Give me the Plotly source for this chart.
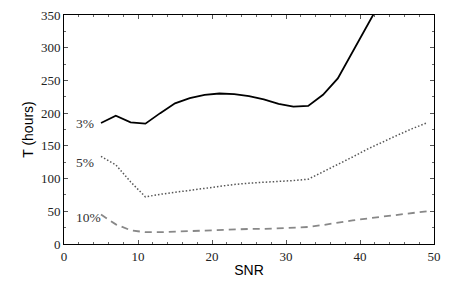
import plotly.graph_objects as go

snr_3 = [5, 7, 9, 11, 13, 15, 17, 19, 21, 23, 25, 27, 29, 31, 33, 35, 37, 39, 41, 43]
t_3 = [185, 196, 186, 184, 200, 215, 223, 228, 230, 229, 226, 221, 214, 210, 211, 228, 253, 293, 334, 375]

snr_5 = [5, 7, 9, 11, 13, 15, 17, 19, 21, 23, 25, 27, 29, 31, 33, 35, 37, 39, 41, 43, 45, 47, 49]
t_5 = [134, 121, 95, 72, 76, 79, 83, 86, 89, 91, 93, 94, 95, 97, 99, 110, 121, 133, 145, 156, 166, 176, 185]

snr_10 = [5, 7, 9, 11, 13, 15, 17, 19, 21, 23, 25, 27, 29, 31, 33, 35, 37, 39, 41, 43, 45, 47, 49]
t_10 = [45, 30, 21, 18, 18, 19, 20, 21, 22, 22, 23, 23, 24, 25, 26, 29, 33, 36, 39, 42, 45, 47, 50]

labels = ["3%", "5%", "10%"]
label_y = [184, 124, 41]

serif = "Liberation Serif, DejaVu Serif, serif"
sans = "Liberation Sans, Arial, sans-serif"

fig = go.Figure()
fig.add_trace(go.Scatter(x=snr_3, y=t_3, mode="lines",
                         line=dict(color="black", width=1.8, dash="solid")))
fig.add_trace(go.Scatter(x=snr_5, y=t_5, mode="lines",
                         line=dict(color="#555555", width=1.5, dash="1.5px,2px")))
fig.add_trace(go.Scatter(x=snr_10, y=t_10, mode="lines",
                         line=dict(color="#888888", width=1.8, dash="7px,5px")))

for lab, yy in zip(labels, label_y):
    fig.add_annotation(x=1.4, y=yy, text=lab, showarrow=False, xanchor="left",
                       yanchor="middle", font=dict(family=serif, size=13.5, color="#333333"))

axis_common = dict(
    showline=True, linecolor="black", linewidth=1, mirror="allticks",
    ticks="inside", ticklen=4, tickwidth=1, tickcolor="#555555",
    showgrid=False, zeroline=False, automargin=False,
    tickfont=dict(family=serif, size=13, color="#222222"),
)

fig.update_xaxes(range=[0, 50], dtick=10, tick0=0,
                 minor=dict(dtick=2, ticks="inside", ticklen=2, tickcolor="#666666"),
                 title=dict(text="SNR", font=dict(family=sans, size=14, color="black"), standoff=2),
                 **axis_common)
fig.update_yaxes(range=[0, 350], dtick=50, tick0=0,
                 minor=dict(dtick=25, ticks="inside", ticklen=2, tickcolor="#666666"),
                 title=dict(text="T (hours)", font=dict(family=sans, size=14, color="black"), standoff=4),
                 **axis_common)

fig.update_layout(
    width=463, height=286,
    margin=dict(l=64, r=29, t=15, b=42),
    plot_bgcolor="white", paper_bgcolor="white",
    showlegend=False,
)

fig.write_html("out.html", config={"displayModeBar": False},
               post_script="document.body.style.margin='0px';")
